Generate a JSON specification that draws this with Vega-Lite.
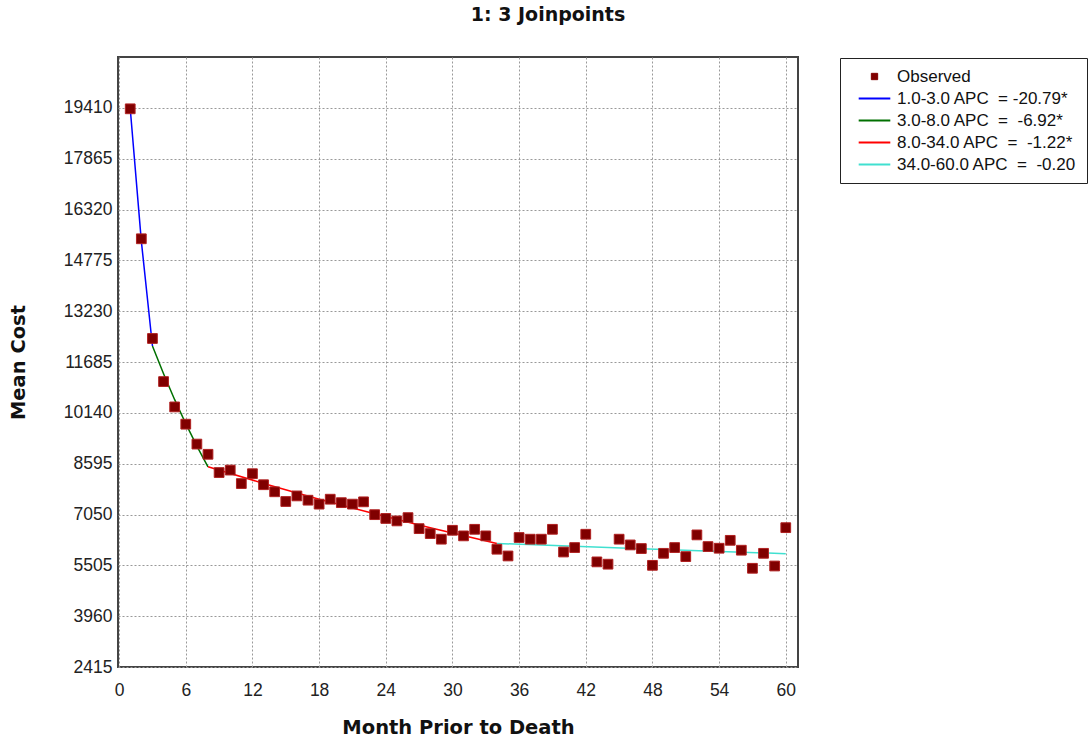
{
  "$schema": "https://vega.github.io/schema/vega-lite/v6.json",
  "autosize": "none",
  "width": 680,
  "height": 610,
  "padding": {"left": 118, "top": 57, "right": 294, "bottom": 75},
  "background": "white",
  "title": {"text": "1: 3 Joinpoints", "font": "DejaVu Sans", "fontSize": 19, "fontWeight": "bold", "color": "#111", "offset": 32, "dx": 90},
  "config": {
    "view": {"stroke": "#444", "strokeWidth": 2},
    "axis": {"labelFont": "Liberation Sans", "labelFontSize": 17.5, "labelColor": "#222", "ticks": false, "domain": false, "gridDash": [2, 2], "gridColor": "#999", "gridWidth": 1, "titleFont": "DejaVu Sans", "titleFontSize": 19.5, "titleFontWeight": "bold", "titleColor": "#111"}
  },
  "datasets": {
    "obs": [
      {"month": 1, "cost": 19380, "series": "Observed"},
      {"month": 2, "cost": 15430, "series": "Observed"},
      {"month": 3, "cost": 12400, "series": "Observed"},
      {"month": 4, "cost": 11090, "series": "Observed"},
      {"month": 5, "cost": 10320, "series": "Observed"},
      {"month": 6, "cost": 9795, "series": "Observed"},
      {"month": 7, "cost": 9190, "series": "Observed"},
      {"month": 8, "cost": 8880, "series": "Observed"},
      {"month": 9, "cost": 8325, "series": "Observed"},
      {"month": 10, "cost": 8400, "series": "Observed"},
      {"month": 11, "cost": 7990, "series": "Observed"},
      {"month": 12, "cost": 8290, "series": "Observed"},
      {"month": 13, "cost": 7955, "series": "Observed"},
      {"month": 14, "cost": 7740, "series": "Observed"},
      {"month": 15, "cost": 7445, "series": "Observed"},
      {"month": 16, "cost": 7615, "series": "Observed"},
      {"month": 17, "cost": 7485, "series": "Observed"},
      {"month": 18, "cost": 7365, "series": "Observed"},
      {"month": 19, "cost": 7515, "series": "Observed"},
      {"month": 20, "cost": 7410, "series": "Observed"},
      {"month": 21, "cost": 7365, "series": "Observed"},
      {"month": 22, "cost": 7435, "series": "Observed"},
      {"month": 23, "cost": 7045, "series": "Observed"},
      {"month": 24, "cost": 6930, "series": "Observed"},
      {"month": 25, "cost": 6855, "series": "Observed"},
      {"month": 26, "cost": 6955, "series": "Observed"},
      {"month": 27, "cost": 6620, "series": "Observed"},
      {"month": 28, "cost": 6470, "series": "Observed"},
      {"month": 29, "cost": 6300, "series": "Observed"},
      {"month": 30, "cost": 6570, "series": "Observed"},
      {"month": 31, "cost": 6400, "series": "Observed"},
      {"month": 32, "cost": 6600, "series": "Observed"},
      {"month": 33, "cost": 6400, "series": "Observed"},
      {"month": 34, "cost": 5995, "series": "Observed"},
      {"month": 35, "cost": 5790, "series": "Observed"},
      {"month": 36, "cost": 6350, "series": "Observed"},
      {"month": 37, "cost": 6300, "series": "Observed"},
      {"month": 38, "cost": 6300, "series": "Observed"},
      {"month": 39, "cost": 6600, "series": "Observed"},
      {"month": 40, "cost": 5910, "series": "Observed"},
      {"month": 41, "cost": 6045, "series": "Observed"},
      {"month": 42, "cost": 6450, "series": "Observed"},
      {"month": 43, "cost": 5610, "series": "Observed"},
      {"month": 44, "cost": 5540, "series": "Observed"},
      {"month": 45, "cost": 6300, "series": "Observed"},
      {"month": 46, "cost": 6125, "series": "Observed"},
      {"month": 47, "cost": 6015, "series": "Observed"},
      {"month": 48, "cost": 5505, "series": "Observed"},
      {"month": 49, "cost": 5870, "series": "Observed"},
      {"month": 50, "cost": 6045, "series": "Observed"},
      {"month": 51, "cost": 5770, "series": "Observed"},
      {"month": 52, "cost": 6430, "series": "Observed"},
      {"month": 53, "cost": 6075, "series": "Observed"},
      {"month": 54, "cost": 6025, "series": "Observed"},
      {"month": 55, "cost": 6265, "series": "Observed"},
      {"month": 56, "cost": 5965, "series": "Observed"},
      {"month": 57, "cost": 5415, "series": "Observed"},
      {"month": 58, "cost": 5870, "series": "Observed"},
      {"month": 59, "cost": 5485, "series": "Observed"},
      {"month": 60, "cost": 6650, "series": "Observed"}
    ],
    "fit": [
      {"month": 1, "cost": 19390, "series": "1.0-3.0 APC\u00a0\u00a0= -20.79*"},
      {"month": 2, "cost": 15360, "series": "1.0-3.0 APC\u00a0\u00a0= -20.79*"},
      {"month": 3, "cost": 12170, "series": "1.0-3.0 APC\u00a0\u00a0= -20.79*"},
      {"month": 3, "cost": 12170, "series": "3.0-8.0 APC\u00a0\u00a0=\u00a0\u00a0-6.92*"},
      {"month": 4, "cost": 11330, "series": "3.0-8.0 APC\u00a0\u00a0=\u00a0\u00a0-6.92*"},
      {"month": 5, "cost": 10540, "series": "3.0-8.0 APC\u00a0\u00a0=\u00a0\u00a0-6.92*"},
      {"month": 6, "cost": 9810, "series": "3.0-8.0 APC\u00a0\u00a0=\u00a0\u00a0-6.92*"},
      {"month": 7, "cost": 9130, "series": "3.0-8.0 APC\u00a0\u00a0=\u00a0\u00a0-6.92*"},
      {"month": 8, "cost": 8500, "series": "3.0-8.0 APC\u00a0\u00a0=\u00a0\u00a0-6.92*"},
      {"month": 8, "cost": 8500, "series": "8.0-34.0 APC\u00a0\u00a0=\u00a0\u00a0-1.22*"},
      {"month": 13, "cost": 7995, "series": "8.0-34.0 APC\u00a0\u00a0=\u00a0\u00a0-1.22*"},
      {"month": 18, "cost": 7515, "series": "8.0-34.0 APC\u00a0\u00a0=\u00a0\u00a0-1.22*"},
      {"month": 23, "cost": 7070, "series": "8.0-34.0 APC\u00a0\u00a0=\u00a0\u00a0-1.22*"},
      {"month": 28, "cost": 6650, "series": "8.0-34.0 APC\u00a0\u00a0=\u00a0\u00a0-1.22*"},
      {"month": 34, "cost": 6170, "series": "8.0-34.0 APC\u00a0\u00a0=\u00a0\u00a0-1.22*"},
      {"month": 34, "cost": 6170, "series": "34.0-60.0 APC\u00a0\u00a0=\u00a0\u00a0-0.20"},
      {"month": 47, "cost": 6010, "series": "34.0-60.0 APC\u00a0\u00a0=\u00a0\u00a0-0.20"},
      {"month": 60, "cost": 5860, "series": "34.0-60.0 APC\u00a0\u00a0=\u00a0\u00a0-0.20"}
    ]
  },
  "encoding": {
    "x": {"field": "month", "type": "quantitative", "title": "Month Prior to Death",
      "scale": {"domain": [-0.1, 61.1], "nice": false, "zero": false},
      "axis": {"values": [0, 6, 12, 18, 24, 30, 36, 42, 48, 54, 60], "labelPadding": 14, "titleX": 340, "titleY": 60, "titleBaseline": "middle"}},
    "y": {"field": "cost", "type": "quantitative", "title": "Mean Cost",
      "scale": {"domain": [2415, 20955], "nice": false, "zero": false},
      "axis": {"values": [2415, 3960, 5505, 7050, 8595, 10140, 11685, 13230, 14775, 16320, 17865, 19410], "format": "d", "labelPadding": 6, "titleX": -100, "titleY": 305, "titleBaseline": "middle", "titleAngle": -90}},
    "color": {"field": "series", "type": "nominal",
      "scale": {"domain": ["Observed", "1.0-3.0 APC\u00a0\u00a0= -20.79*", "3.0-8.0 APC\u00a0\u00a0=\u00a0\u00a0-6.92*", "8.0-34.0 APC\u00a0\u00a0=\u00a0\u00a0-1.22*", "34.0-60.0 APC\u00a0\u00a0=\u00a0\u00a0-0.20"],
        "range": ["#800000", "#0000ff", "#007000", "#ff0000", "#40e0d0"]},
      "legend": {"title": null, "orient": "none", "legendX": 722, "legendY": 1,
        "strokeColor": "#222", "fillColor": "white", "padding": 10,
        "labelFont": "Liberation Sans", "labelFontSize": 17, "labelColor": "#111", "labelOffset": 14, "labelLimit": 400,
        "symbolOffset": 16, "rowPadding": 4, "symbolSize": 1000,
        "encode": {"symbols": {"update": {
          "shape": {"signal": "datum.value === 'Observed' ? 'square' : 'stroke'"},
          "size": {"signal": "datum.value === 'Observed' ? 40 : 1000"},
          "fill": {"signal": "datum.value === 'Observed' ? '#800000' : 'transparent'"},
          "stroke": {"signal": "scale('color', datum.value)"},
          "strokeWidth": {"signal": "datum.value === 'Observed' ? 1 : 2"},
          "opacity": {"value": 1}
        }}}}
    }
  },
  "layer": [
    {"data": {"name": "fit"}, "mark": {"type": "line", "strokeWidth": 1.5}},
    {"data": {"name": "obs"}, "mark": {"type": "point", "shape": "square", "filled": true, "size": 95, "opacity": 1, "stroke": "#b02020", "strokeWidth": 1}}
  ]
}
